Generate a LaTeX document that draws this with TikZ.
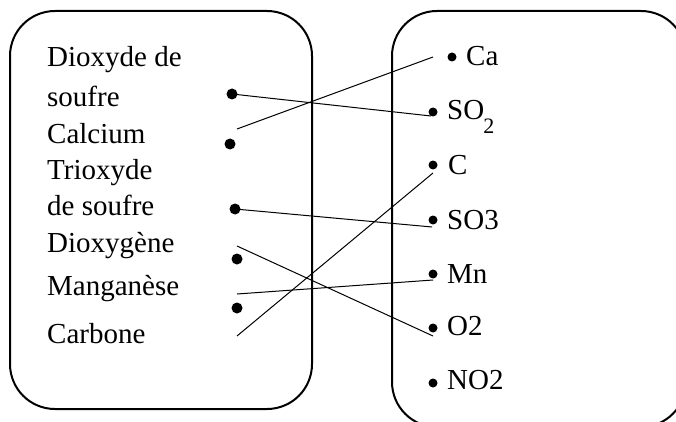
\documentclass[tikz,border=0pt]{standalone}
\usepackage{fontspec}
\setmainfont{Liberation Serif}
\begin{document}
\begin{tikzpicture}[x=1pt,y=-1pt,
  panel/.style={draw=black,line width=2pt,rounded corners=45pt},
  ldot/.style={circle,fill=black,inner sep=0pt,minimum size=11pt},
  rdot/.style={circle,fill=black,inner sep=0pt,minimum size=9pt},
  lbl/.style={anchor=base west,inner sep=0pt,font=\fontsize{29}{31}\selectfont},
  link/.style={draw=black,line width=1pt}]
\useasboundingbox (0,0) rectangle (676,422);
\clip (0,0) rectangle (676,422);
% panels
\draw[panel] (10,11) rectangle (312,409);
\draw[panel] (392,11) rectangle (686,427);
% left labels
\node[lbl] (t1) at (47,67) {Dioxyde de};
\node[lbl] (t2) at (47,107) {soufre};
\node[lbl] (t3) at (47,143) {Calcium};
\node[lbl] (t4) at (47,179) {Trioxyde};
\node[lbl] (t5) at (47,215) {de soufre};
\node[lbl] (t6) at (47,252) {Dioxygène};
\node[lbl] (t7) at (47,295) {Manganèse};
\node[lbl] (t8) at (47,343) {Carbone};
% left dots
\node[ldot] (l1) at (232,94) {};
\node[ldot] (l2) at (230,144) {};
\node[ldot] (l3) at (235,209) {};
\node[ldot] (l4) at (237,259) {};
\node[ldot] (l5) at (237,308) {};
% right dots
\node[rdot] (rCa) at (452,57) {};
\node[rdot] (rSO2) at (433,112) {};
\node[rdot] (rC) at (433,165) {};
\node[rdot] (rSO3) at (433,220) {};
\node[rdot] (rMn) at (433,274) {};
\node[rdot] (rO2) at (433,328) {};
\node[rdot] (rNO2) at (433,383) {};
% right labels
\node[lbl] (tCa) at (466,66) {Ca};
\node[lbl] (tSO2) at (447,120) {SO\kern-1pt\raisebox{-14pt}{\fontsize{22}{24}\selectfont 2}};
\node[lbl] (tC) at (448,174) {C};
\node[lbl] (tSO3) at (447,229) {SO3};
\node[lbl] (tMn) at (447,283) {Mn};
\node[lbl] (tO2) at (447,335) {O2};
\node[lbl] (tNO2) at (447,389) {NO2};
% free ends
\coordinate (a2) at (237,129);
\coordinate (b2) at (433,57);
\coordinate (b1) at (431,116);
\coordinate (b3) at (432,227);
\coordinate (a4) at (237,246);
\coordinate (b4) at (433,336);
\coordinate (a5) at (237,294);
\coordinate (b5) at (433,280);
\coordinate (a6) at (237,336);
\coordinate (b6) at (433,173);
% links
\draw[link] (l1.center) -- (b1);
\draw[link] (a2) -- (b2);
\draw[link] (l3.center) -- (b3);
\draw[link] (a4) -- (b4);
\draw[link] (a5) -- (b5);
\draw[link] (a6) -- (b6);
\end{tikzpicture}
\end{document}
